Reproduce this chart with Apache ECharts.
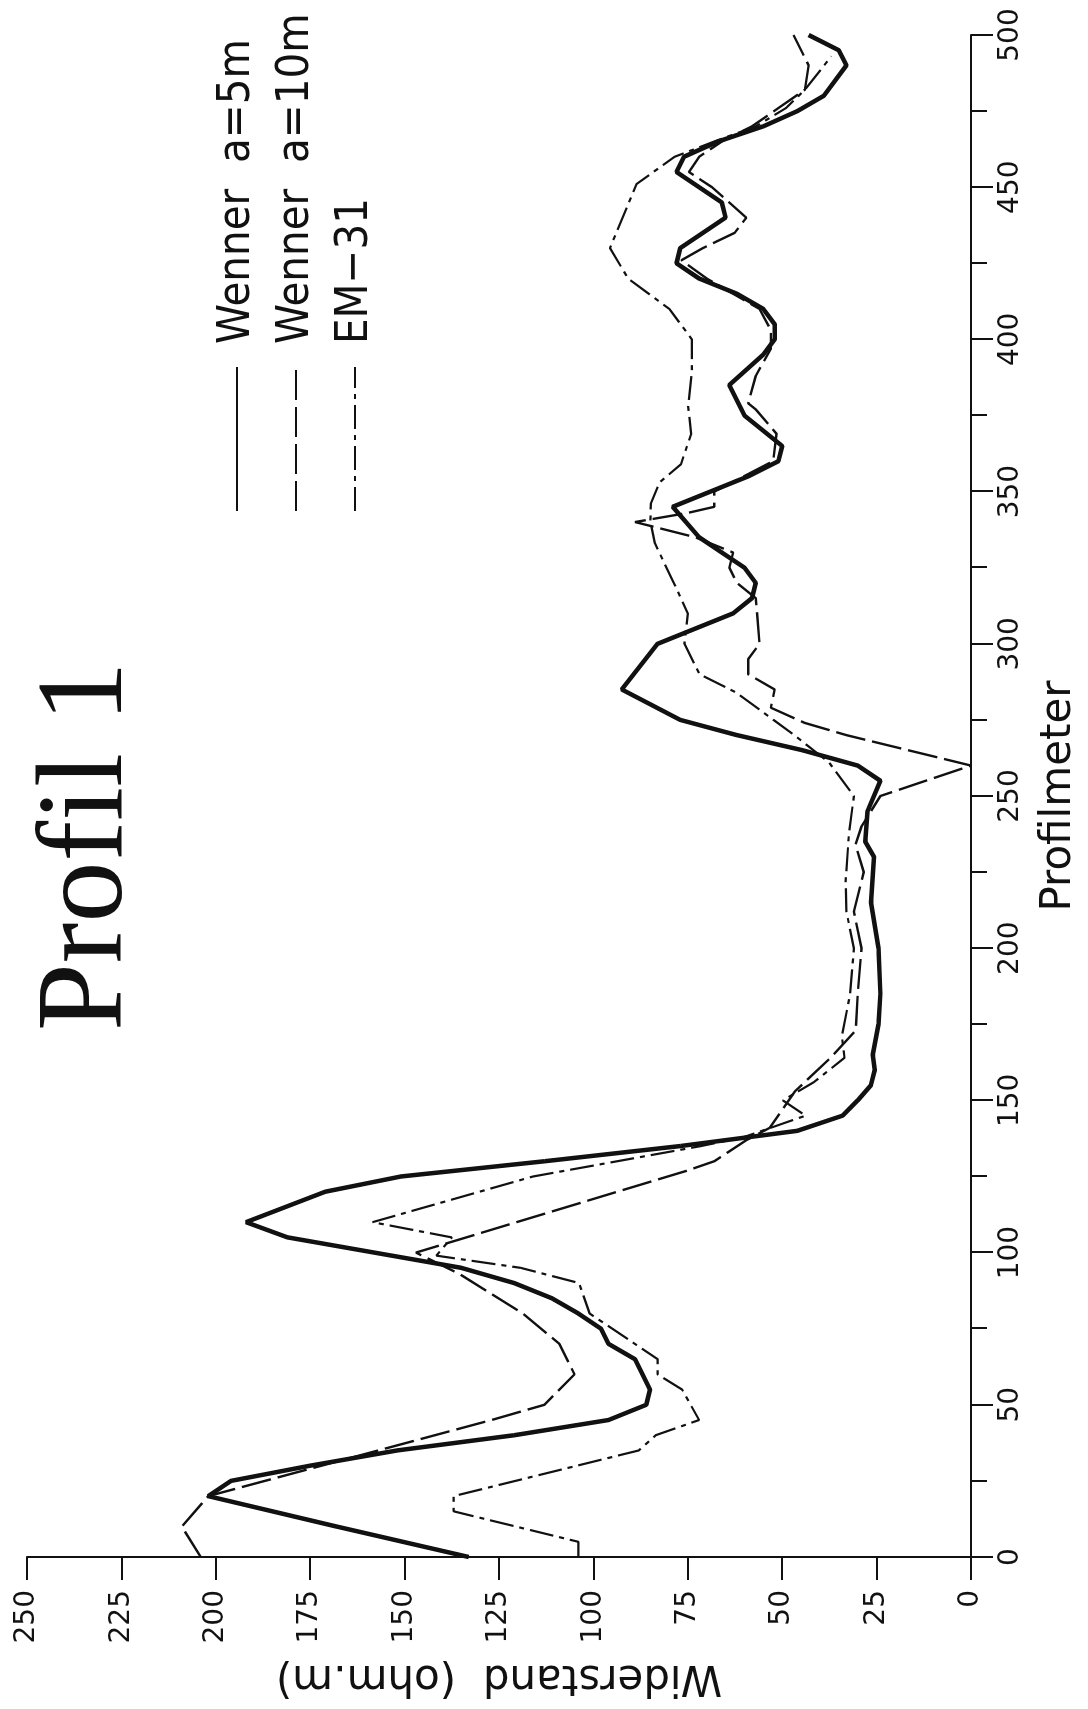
<!DOCTYPE html>
<html>
<head>
<meta charset="utf-8">
<script src="https://cdn.jsdelivr.net/npm/echarts@6/dist/echarts.min.js"></script>
<style>
html,body{margin:0;padding:0;background:#fff;width:1088px;height:1709px;overflow:hidden;}
#rot{position:absolute;left:0;top:0;width:1709px;height:1088px;transform-origin:0 0;transform:translate(0,1709px) rotate(-90deg);}
#chart{width:1709px;height:1088px;}
</style>
</head>
<body>
<div id="rot"><div id="chart"></div></div>
<script>
// Profilmeter positions and Widerstand (ohm.m) values
const wenner5P = [0,10,20,25,30,35,40,45,50,55,65,70,75,80,85,90,95,100,105,110,120,125,130,135,140,145,150,155,160,165,175,185,200,215,230,235,245,255,260,265,270,275,285,300,310,315,320,325,330,335,345,350,355,360,365,375,385,395,400,405,410,415,420,425,430,440,445,455,460,465,470,475,480,490,495,500];
const wenner5W = [133,168,202,196,175,152,121,96,86,85,89,96,98,104,111,121,135,158,181,192,171,151,113,77,46,34,30,26.5,25.5,26,24.5,24,24.5,26.5,25.7,28,27.4,24,30,44.5,62,77,92.5,83,63,58,57,60,66,72,79,69,59,51,50,60,64,55,52,52,55,62,72,78,77,65,66,78,76,67,55,46,39,33,35,43];

const wenner10P = [0,10,20,35,45,50,60,70,80,93,100,127,130,137,141,153,164,173,185,200,212,225,234,240,250,260,270,274,279,285,290,295,300,315,320,325,330,335,340,343,345,350,360,369,377,379,388,397,403,410,420,426,430,435,440,450,455,460,465,470,476,482,490,500];
const wenner10W = [204,209,202,157,127,113,105,109,118.7,135.5,147,75,68,59.4,53.3,46.6,37.2,30.5,30,29,31,28.4,30.6,29,24,0,33,44,53,52,59,59,56,57,62,64,63,73,89,75,68,68,52.4,51.5,57,59,57,53,53,56,70,76.7,71,62.6,59.5,68.6,74.7,72,66,58,51,44,43,47];

const em31P = [0,5,15,20,35,40,45,55,60,65,80,90,95,99,105,110,125,135,138,145,150,156,164,171,185,200,212,222,238,250,261,270,284,290,300,310,320,333,340,346,353,359,369,378,390,400,410,420,430,451,460,465,470,476,482,493];
const em31W = [104,104,137,137,88,83.5,72,76.5,83,83,101,103.8,119.3,141.6,137.5,158.5,116,71.5,60,43.8,49.8,41.6,33.5,34.2,32,31,33,33.2,32.3,31,37.6,46.8,62.2,71.9,75.9,75,78.7,83.7,84.9,84.8,82.5,76.8,74.1,74.9,73.9,73.9,79.9,90.8,95.6,88.6,78.5,68,57,49,44,37];

const seriesNames = ['Wenner  a=5m','Wenner  a=10m','EM\u221231'];
const titleText = 'Profil 1';
const xName = 'Profilmeter';
const yName = 'Widerstand  (ohm.m)';

function zip(a,b){return a.map((p,i)=>[p,b[i]]);}
function hasFont(name){
  const c=document.createElement('canvas').getContext('2d');
  const t='Wenner a=5m';
  c.font='56px monospace'; const w1=c.measureText(t).width;
  c.font="56px '"+name+"', monospace"; const w2=c.measureText(t).width;
  return Math.abs(w1-w2)>0.5;
}
let legFont='Liberation Sans', legSize=46;
if(hasFont('Liberation Sans Narrow')){legFont='Liberation Sans Narrow';legSize=56;}
else if(hasFont('DejaVu Sans Condensed')){legFont='DejaVu Sans Condensed';legSize=45;}

const ink='#111';
const chart=echarts.init(document.getElementById('chart'),null,{renderer:'canvas'});
chart.setOption({
  animation:false,
  backgroundColor:'#fff',
  title:{text:titleText,left:673,top:23,textStyle:{fontFamily:'Liberation Serif',fontSize:122,fontWeight:'normal',color:ink}},
  legend:{orient:'vertical',left:1192,top:207,itemWidth:144,itemHeight:20,itemGap:9,
    itemStyle:{opacity:0,borderWidth:0},
    textStyle:{fontFamily:legFont,fontSize:legSize,lineHeight:50,color:ink,padding:[0,0,0,18]},
    data:seriesNames},
  grid:{left:152,right:35,top:27,bottom:117},
  xAxis:{type:'value',min:0,max:500,interval:50,
    name:xName,nameLocation:'middle',nameGap:67,
    nameTextStyle:{fontFamily:'DejaVu Sans',fontSize:42,color:ink},
    axisLine:{show:true,lineStyle:{color:ink,width:2}},
    axisTick:{show:true,inside:false,length:22,lineStyle:{color:ink,width:2}},
    minorTick:{show:true,splitNumber:2,length:16,lineStyle:{color:ink,width:2}},
    axisLabel:{margin:26,fontFamily:'DejaVu Sans',fontSize:28,color:ink},
    splitLine:{show:false},minorSplitLine:{show:false}},
  yAxis:{type:'value',min:0,max:250,interval:25,
    name:yName,nameLocation:'middle',nameGap:99,
    nameTextStyle:{fontFamily:'DejaVu Sans',fontSize:42,color:ink},
    axisLine:{show:true,lineStyle:{color:ink,width:2}},
    axisTick:{show:true,inside:false,length:23,lineStyle:{color:ink,width:2}},
    axisLabel:{margin:33,fontFamily:'DejaVu Sans',fontSize:28,color:ink},
    splitLine:{show:false}},
  series:[
    {name:seriesNames[0],type:'line',symbol:'none',data:zip(wenner5P,wenner5W),
      lineStyle:{color:ink,width:4.5},itemStyle:{color:ink}},
    {name:seriesNames[1],type:'line',symbol:'none',data:zip(wenner10P,wenner10W),
      lineStyle:{color:ink,width:2.4,type:[30,7]},itemStyle:{color:ink}},
    {name:seriesNames[2],type:'line',symbol:'none',data:zip(em31P,em31W),
      lineStyle:{color:ink,width:2.2,type:[24,6,5,6]},itemStyle:{color:ink}}
  ]
});
</script>
</body>
</html>
